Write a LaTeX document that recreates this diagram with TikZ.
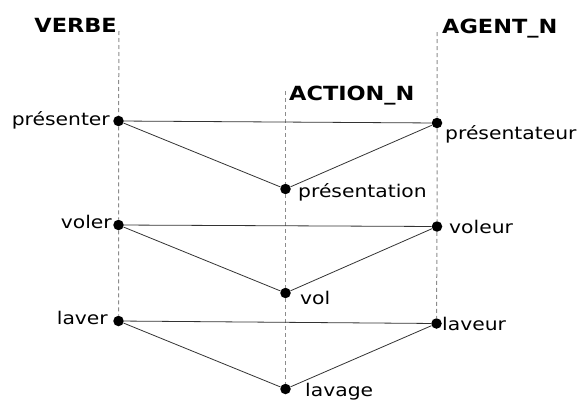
\documentclass[tikz,border=0pt]{standalone}
\usepackage{fontspec}
\setmainfont{DejaVu Sans}[FakeStretch=1.16]
\newfontfamily\headfont{DejaVu Sans}[FakeStretch=1.15]
\usepackage{tikz}
\tikzset{
  mot/.style={circle, fill=black, inner sep=0pt, minimum size=10.5pt},
  etiq/.style={inner sep=0pt, font=\fontsize{17.5}{19}\selectfont},
  titre/.style={inner sep=0pt, font=\headfont\bfseries\fontsize{19.5}{22}\selectfont},
  guide/.style={gray!90, dash pattern=on 4pt off 3pt, line width=1pt},
  lien/.style={black!80, line width=0.8pt}
}

\begin{document}
\begin{tikzpicture}[x=1pt, y=-1pt]
		\useasboundingbox (0,0) rectangle (580,399);
		\node[titre, anchor=base east] (verbe) at (117,32) {VERBE};
		\node[titre, anchor=base west] (action) at (289,100) {ACTION\_N};
		\node[titre, anchor=base west] (agent) at (442,33) {AGENT\_N};
		\coordinate (vhaut) at (119,31);
		\coordinate (chaut) at (285.5,91);
		\coordinate (ahaut) at (437,32);

		\node[mot] (presenter) at (118.5,121) {};
		\node[mot] (presentateur) at (437,123) {};
		\node[mot] (presentation) at (285.5,189) {};
		\node[mot] (voler) at (118.5,225) {};
		\node[mot] (voleur) at (437,226.5) {};
		\node[mot] (vol) at (285.5,293) {};
		\node[mot] (laver) at (118.5,321) {};
		\node[mot] (laveur) at (436.5,323.5) {};
		\node[mot] (lavage) at (285.5,389) {};

		\node[etiq, anchor=base east] (lpresenter) at (110,125) {présenter};
		\node[etiq, anchor=base west] (lpresentateur) at (445,139) {présentateur};
		\node[etiq, anchor=base west] (lpresentation) at (298,197) {présentation};
		\node[etiq, anchor=base east] (lvoler) at (112,228) {voler};
		\node[etiq, anchor=base west] (lvoleur) at (449,233) {voleur};
		\node[etiq, anchor=base west] (lvol) at (300,304) {vol};
		\node[etiq, anchor=base east] (llaver) at (108,324) {laver};
		\node[etiq, anchor=base west] (llaveur) at (442,330) {laveur};
		\node[etiq, anchor=base west] (llavage) at (305,396) {lavage};

		\draw[guide] (vhaut) -- (presenter) (presenter) -- (voler) (voler) -- (laver);
		\draw[guide] (chaut) -- (presentation) (presentation) -- (vol) (vol) -- (lavage);
		\draw[guide] (ahaut) -- (presentateur) (presentateur) -- (voleur) (voleur) -- (laveur);

		\draw[lien] (presenter) -- (presentateur);
		\draw[lien] (presenter) -- (presentation) -- (presentateur);
		\draw[lien] (voler) -- (voleur);
		\draw[lien] (voler) -- (vol) -- (voleur);
		\draw[lien] (laver) -- (laveur);
		\draw[lien] (laver) -- (lavage) -- (laveur);
	\end{tikzpicture}
\end{document}
